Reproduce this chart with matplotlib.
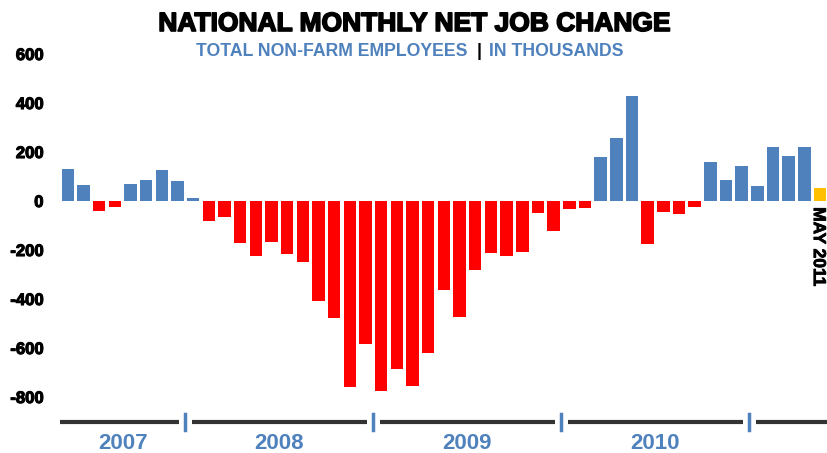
import matplotlib
matplotlib.use("Agg")
import matplotlib.pyplot as plt
import matplotlib.transforms as mtransforms
import matplotlib.patheffects as pe
import numpy as np

# monthly net job change, May 2007 - May 2011 (thousands)
years = ['2007', '2008', '2009', '2010', '2011']
months_per_year = [8, 12, 12, 12, 5]
values = [130, 64, -42, -24, 70, 86, 125, 80,
          12, -80, -67, -173, -223, -167, -216, -249, -408, -478, -758, -584,
          -775, -687, -754, -622, -363, -475, -282, -214, -223, -207, -50, -122,
          -34, -30, 180, 257, 429, -177, -46, -53, -23, 160, 87, 143,
          61, 220, 184, 220, 52]
yticks = [600, 400, 200, 0, -200, -400, -600, -800]
last_label = 'MAY 2011'

BLUE = '#4f81bd'
RED = '#ff0000'
GOLD = '#ffc000'
plt.rcParams['font.family'] = ['Liberation Sans', 'DejaVu Sans']
heavy = [pe.withStroke(linewidth=1.2, foreground='black')]

fig = plt.figure(figsize=(8.27, 4.53), dpi=100)
ax = fig.add_axes([60 / 827, 1 - 422 / 453, 1 - 60 / 827, 392 / 453])

x = np.arange(len(values))
colors = [BLUE if v >= 0 else RED for v in values]
colors[-1] = GOLD
ax.bar(x, values, width=0.8, color=colors, linewidth=0)

ymin, ymax = -902, 698
ax.set_xlim(-0.5, 48.45)
ax.set_ylim(ymin, ymax)
for s in ax.spines.values():
    s.set_visible(False)
ax.set_xticks([])
ax.set_yticks(yticks)
ax.set_yticklabels([str(t) for t in yticks], fontsize=12, fontweight='bold')
for lbl in ax.get_yticklabels():
    lbl.set_path_effects([pe.withStroke(linewidth=0.8, foreground='black')])
ax.tick_params(axis='y', length=0, pad=12)

# year axis at the bottom
bounds = np.concatenate([[-0.5], np.cumsum(months_per_year) - 0.5])
bounds[-1] = 48.45
gap = 0.4
trans = mtransforms.blended_transform_factory(ax.transData, ax.transAxes)
for i, yr in enumerate(years):
    lo = bounds[i] + (gap if i > 0 else 0)
    hi = bounds[i + 1] - (gap if i < len(years) - 1 else 0)
    ax.plot([lo, hi], [0, 0], color='#333333', lw=3, transform=trans,
            clip_on=False, solid_capstyle='butt')
    if i < len(years) - 1:
        ax.plot([bounds[i + 1]] * 2, [-0.02, 0.02], color=BLUE, lw=2.5,
                transform=trans, clip_on=False)
        ax.text((bounds[i] + bounds[i + 1]) / 2, -0.055, yr, transform=trans,
                ha='center', va='center', fontsize=16, fontweight='bold',
                color=BLUE)

ax.text(x[-1] - 0.1, -25, last_label, rotation=270, ha='center', va='top',
        fontsize=12.5, fontweight='bold', color='black',
        path_effects=[pe.withStroke(linewidth=0.6, foreground='black')])

# titles
fig.text(414 / 827, 1 - 24 / 453, 'NATIONAL MONTHLY NET JOB CHANGE',
         ha='center', va='center', fontsize=19, fontweight='bold',
         path_effects=heavy)
sub_y = 1 - 51 / 453
fig.text(468 / 827, sub_y, 'TOTAL NON-FARM EMPLOYEES', ha='right', va='center',
         fontsize=12.7, fontweight='bold', color=BLUE)
fig.text(479 / 827, sub_y, '|', ha='center', va='center',
         fontsize=12.7, fontweight='bold', color='black')
fig.text(489 / 827, sub_y, 'IN THOUSANDS', ha='left', va='center',
         fontsize=12.7, fontweight='bold', color=BLUE)

fig.savefig('out.png', dpi=100)
